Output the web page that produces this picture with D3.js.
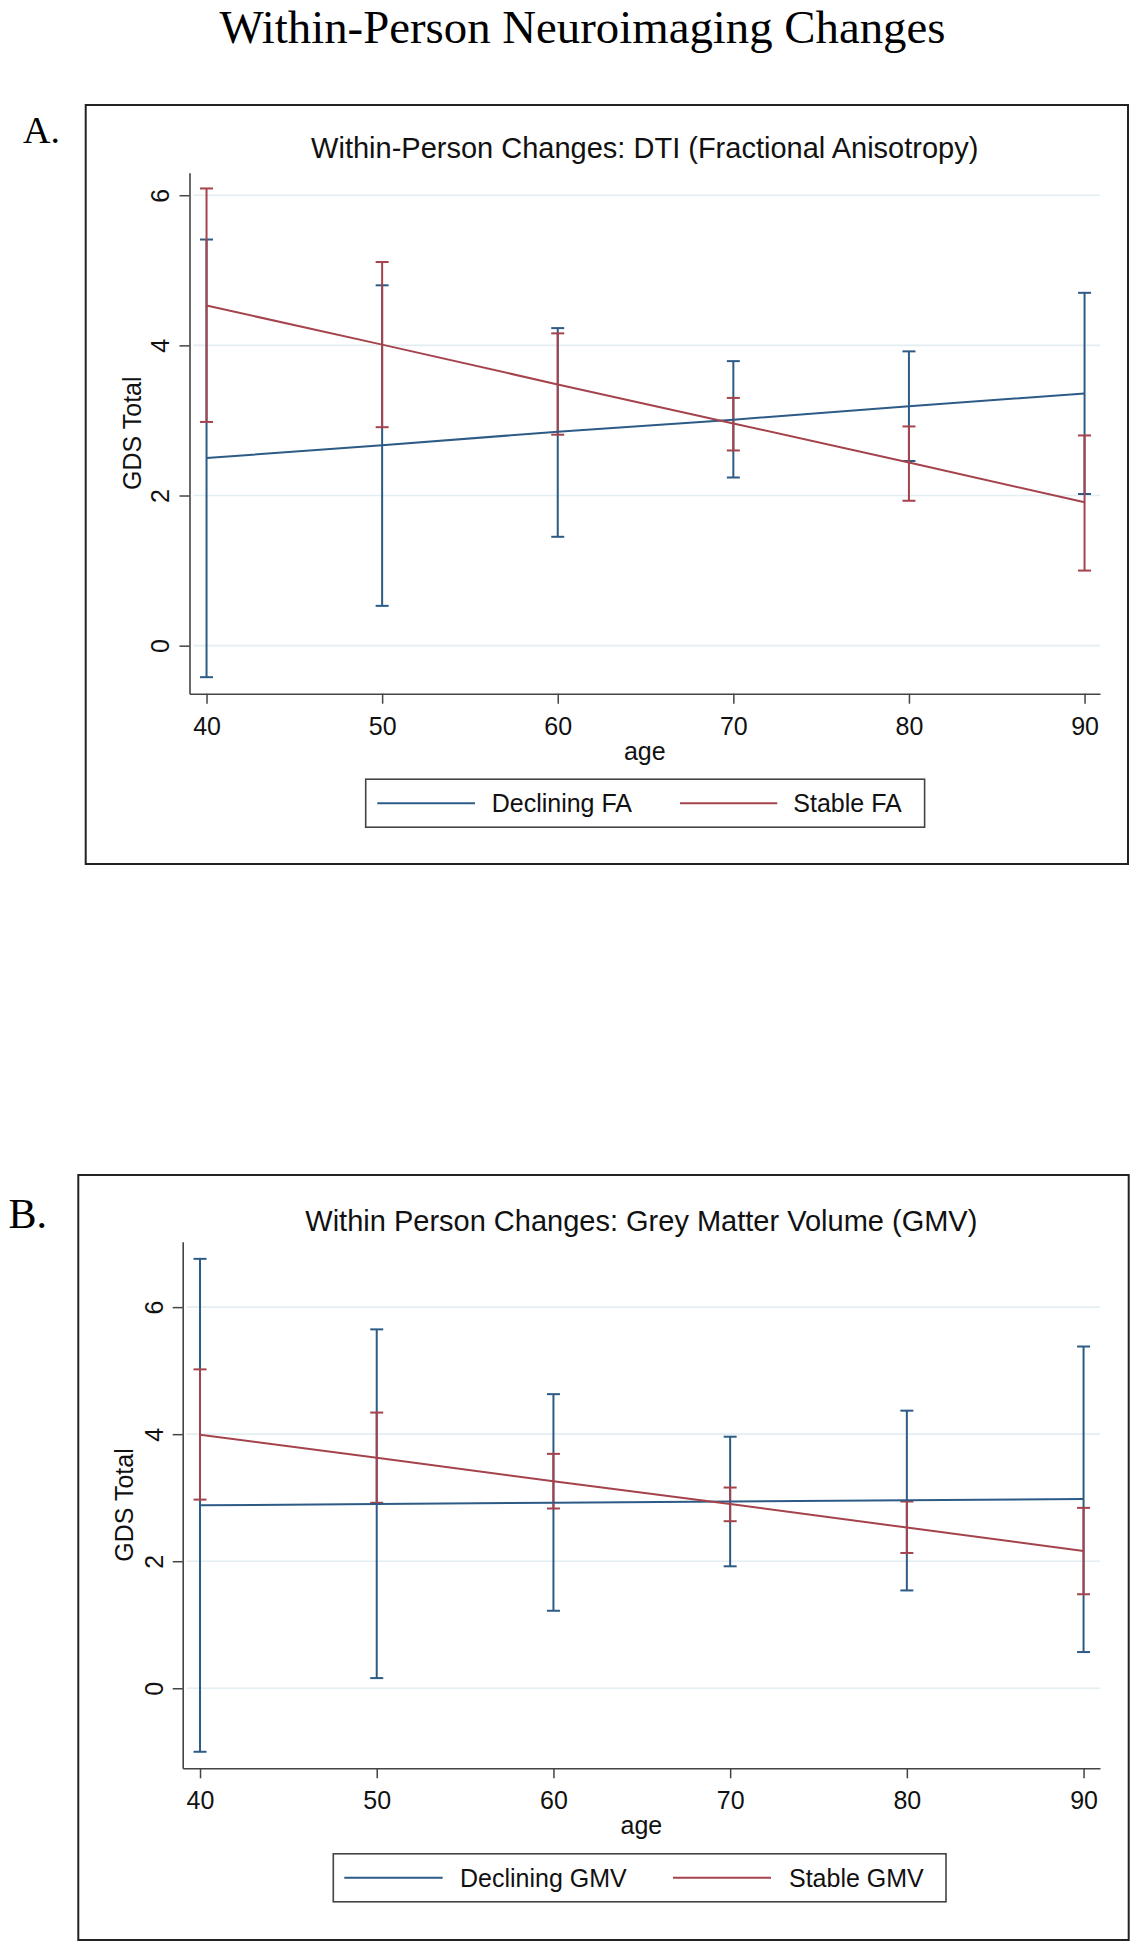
<!DOCTYPE html>
<html>
<head>
<meta charset="utf-8">
<script src="https://cdn.jsdelivr.net/npm/d3@7"></script>
<style>
  html, body { margin: 0; padding: 0; background: #ffffff; }
  svg { display: block; }
</style>
</head>
<body>
<svg id="chart" width="1138" height="1950"></svg>
<script>
// ---------------- data ----------------
const ages = [40, 50, 60, 70, 80, 90];
const xTickValues = [40, 50, 60, 70, 80, 90];
const yTickValues = [0, 2, 4, 6];

// Panel A: DTI (Fractional Anisotropy)
const faDecliningMean = [2.50, 2.67, 2.85, 3.01, 3.19, 3.36];
const faDecliningLo   = [-0.42, 0.53, 1.45, 2.24, 2.46, 2.02];
const faDecliningHi   = [5.41, 4.80, 4.23, 3.79, 3.92, 4.70];
const faStableMean    = [4.53, 4.01, 3.48, 2.96, 2.44, 1.91];
const faStableLo      = [2.98, 2.91, 2.81, 2.60, 1.93, 1.00];
const faStableHi      = [6.09, 5.11, 4.16, 3.30, 2.92, 2.80];

// Panel B: Grey Matter Volume (GMV)
const gmvDecliningMean = [2.88, 2.90, 2.92, 2.94, 2.96, 2.98];
const gmvDecliningLo   = [-1.00, 0.16, 1.22, 1.92, 1.54, 0.57];
const gmvDecliningHi   = [6.76, 5.65, 4.63, 3.96, 4.37, 5.38];
const gmvStableMean    = [3.99, 3.63, 3.26, 2.90, 2.53, 2.16];
const gmvStableLo      = [2.97, 2.92, 2.83, 2.63, 2.13, 1.48];
const gmvStableHi      = [5.02, 4.34, 3.69, 3.16, 2.94, 2.84];

const mainTitle = "Within-Person Neuroimaging Changes";
const panelTitles = ["Within-Person Changes: DTI (Fractional Anisotropy)",
                     "Within Person Changes: Grey Matter Volume (GMV)"];
const panelLetters = ["A.", "B."];
const legendLabelsA = ["Declining FA", "Stable FA"];
const legendLabelsB = ["Declining GMV", "Stable GMV"];
const xLabel = "age";
const yLabel = "GDS Total";

// ---------------- styles ----------------
const BLUE = "#2d5b86";
const RED = "#a5434d";
const SANS = "'Liberation Sans', Arial, Helvetica, sans-serif";
const SERIF = "'Liberation Serif', 'Times New Roman', serif";

const svg = d3.select("#chart");

svg.append("text")
  .attr("x", 582.5).attr("y", 42.7)
  .attr("text-anchor", "middle")
  .attr("font-family", SERIF).attr("font-size", 46.8)
  .attr("fill", "#000")
  .text(mainTitle);

function series(mean, lo, hi) {
  return ages.map((a, i) => ({ age: a, mean: mean[i], lo: lo[i], hi: hi[i] }));
}

const panels = [
  {
    letter: panelLetters[0], letterX: 23, letterY: 143.3, letterSize: 38,
    title: panelTitles[0], titleY: 158,
    box: { x0: 85.7, y0: 105, x1: 1128, y1: 864 },
    plot: { x0: 189.5, x1: 1100, y0: 172.7, y1: 693.7 },
    xDomain: [39.03, 90.88], yDomain: [-0.64, 6.30],
    ylabX: 140.7, ticklabOff: 20.5,
    legend: { x0: 365.7, x1: 924.6, labels: legendLabelsA,
              items: [{ l0: 377.3, l1: 475, t: 491.7 }, { l0: 680, l1: 777.3, t: 793.3 }] },
    data: [
      { color: BLUE, rows: series(faDecliningMean, faDecliningLo, faDecliningHi) },
      { color: RED, rows: series(faStableMean, faStableLo, faStableHi) }
    ]
  },
  {
    letter: panelLetters[1], letterX: 8.5, letterY: 1228.3, letterSize: 42,
    title: panelTitles[1], titleY: 1231,
    box: { x0: 78.3, y0: 1175, x1: 1128.7, y1: 1940 },
    plot: { x0: 182.7, x1: 1100, y0: 1241.7, y1: 1768.3 },
    xDomain: [39.02, 90.93], yDomain: [-1.26, 7.03],
    ylabX: 133.4, ticklabOff: 19.5,
    legend: { x0: 333.3, x1: 946, labels: legendLabelsB,
              items: [{ l0: 344.3, l1: 442.7, t: 460 }, { l0: 673, l1: 771, t: 789 }] },
    data: [
      { color: BLUE, rows: series(gmvDecliningMean, gmvDecliningLo, gmvDecliningHi) },
      { color: RED, rows: series(gmvStableMean, gmvStableLo, gmvStableHi) }
    ]
  }
];

panels.forEach(p => {
  const g = svg.append("g");
  // letter
  g.append("text").attr("x", p.letterX).attr("y", p.letterY)
    .attr("font-family", SERIF).attr("font-size", p.letterSize).attr("fill", "#000")
    .text(p.letter);
  // outer box
  g.append("rect")
    .attr("x", p.box.x0).attr("y", p.box.y0)
    .attr("width", p.box.x1 - p.box.x0).attr("height", p.box.y1 - p.box.y0)
    .attr("fill", "none").attr("stroke", "#222").attr("stroke-width", 2);

  const x = d3.scaleLinear().domain(p.xDomain).range([p.plot.x0, p.plot.x1]);
  const y = d3.scaleLinear().domain(p.yDomain).range([p.plot.y1, p.plot.y0]);

  // title
  g.append("text").attr("x", (p.plot.x0 + p.plot.x1) / 2).attr("y", p.titleY)
    .attr("text-anchor", "middle").attr("font-family", SANS).attr("font-size", 29)
    .attr("fill", "#111").text(p.title);

  // gridlines
  g.append("g").selectAll("line").data(yTickValues).join("line")
    .attr("x1", p.plot.x0 + 4).attr("x2", p.plot.x1)
    .attr("y1", d => y(d)).attr("y2", d => y(d))
    .attr("stroke", "#e2eef2").attr("stroke-width", 1.6);

  // y axis
  const yAxis = g.append("g").attr("transform", `translate(${p.plot.x0},0)`)
    .call(d3.axisLeft(y).tickValues(yTickValues).tickSize(10).tickSizeOuter(0).tickFormat(d3.format("d")));
  yAxis.select(".domain").attr("stroke", "#444").attr("stroke-width", 1.6);
  yAxis.selectAll(".tick line").attr("stroke", "#444").attr("stroke-width", 1.5);
  yAxis.selectAll(".tick text")
    .attr("x", null).attr("dy", null)
    .attr("text-anchor", "middle")
    .attr("transform", `translate(${-p.ticklabOff},0) rotate(-90)`)
    .attr("font-family", SANS).attr("font-size", 25).attr("fill", "#111");

  // x axis
  const xAxis = g.append("g").attr("transform", `translate(0,${p.plot.y1})`)
    .call(d3.axisBottom(x).tickValues(xTickValues).tickSize(10).tickSizeOuter(0).tickFormat(d3.format("d")));
  xAxis.select(".domain").attr("stroke", "#444").attr("stroke-width", 1.6);
  xAxis.selectAll(".tick line").attr("stroke", "#444").attr("stroke-width", 1.5);
  xAxis.selectAll(".tick text")
    .attr("y", 41).attr("dy", null)
    .attr("font-family", SANS).attr("font-size", 25).attr("fill", "#111");

  // axis titles
  g.append("text").attr("x", (p.plot.x0 + p.plot.x1) / 2).attr("y", p.plot.y1 + 66)
    .attr("text-anchor", "middle").attr("font-family", SANS).attr("font-size", 25)
    .attr("fill", "#111").text(xLabel);
  g.append("text")
    .attr("transform", `translate(${p.ylabX},${(p.plot.y0 + p.plot.y1) / 2}) rotate(-90)`)
    .attr("text-anchor", "middle").attr("font-family", SANS).attr("font-size", 25)
    .attr("fill", "#111").text(yLabel);

  // confidence intervals
  const capW = 6.5;
  p.data.forEach(s => {
    const cg = g.append("g").attr("stroke", s.color).attr("stroke-width", 2).attr("fill", "none");
    cg.selectAll("line.v").data(s.rows).join("line").attr("class", "v")
      .attr("x1", d => x(d.age)).attr("x2", d => x(d.age))
      .attr("y1", d => y(d.lo)).attr("y2", d => y(d.hi));
    cg.selectAll("line.h").data(s.rows).join("line").attr("class", "h")
      .attr("x1", d => x(d.age) - capW).attr("x2", d => x(d.age) + capW)
      .attr("y1", d => y(d.hi)).attr("y2", d => y(d.hi));
    cg.selectAll("line.l").data(s.rows).join("line").attr("class", "l")
      .attr("x1", d => x(d.age) - capW).attr("x2", d => x(d.age) + capW)
      .attr("y1", d => y(d.lo)).attr("y2", d => y(d.lo));
  });
  // mean lines
  const line = d3.line().x(d => x(d.age)).y(d => y(d.mean));
  p.data.forEach(s => {
    g.append("path").datum(s.rows).attr("d", line)
      .attr("fill", "none").attr("stroke", s.color).attr("stroke-width", 2);
  });

  // legend
  const ly0 = p.plot.y1 + 85.5, ly1 = p.plot.y1 + 133.5, lyc = (ly0 + ly1) / 2;
  g.append("rect").attr("x", p.legend.x0).attr("y", ly0)
    .attr("width", p.legend.x1 - p.legend.x0).attr("height", ly1 - ly0)
    .attr("fill", "#fff").attr("stroke", "#444").attr("stroke-width", 1.6);
  p.legend.items.forEach((it, i) => {
    g.append("line").attr("x1", it.l0).attr("x2", it.l1).attr("y1", lyc).attr("y2", lyc)
      .attr("stroke", p.data[i].color).attr("stroke-width", 2);
    g.append("text").attr("x", it.t).attr("y", lyc + 8.8)
      .attr("font-family", SANS).attr("font-size", 25).attr("fill", "#111")
      .text(p.legend.labels[i]);
  });
});
</script>
</body>
</html>
